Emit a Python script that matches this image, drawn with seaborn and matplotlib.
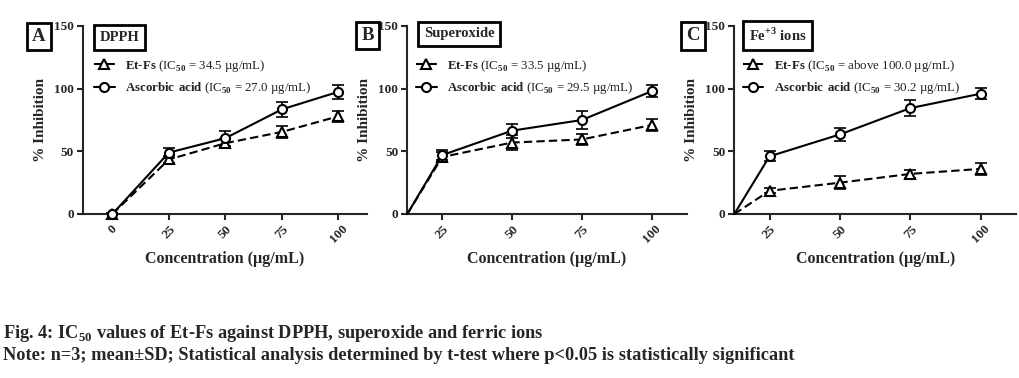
import numpy as np
import pandas as pd
import matplotlib
matplotlib.use("Agg")
import matplotlib.pyplot as plt
from matplotlib.lines import Line2D
import seaborn as sns

# concentrations (ug/mL)
conc_a = [0, 25, 50, 75, 100]
conc_bc = [12.5, 25, 50, 75, 100]

# panel A - DPPH
etfs_a = [0, 43.5, 56.5, 65.5, 78]
etfs_a_sd = [1, 3, 3.5, 5, 4.5]
asc_a = [0, 49, 60.5, 83.5, 97.5]
asc_a_sd = [1, 4, 6, 6, 5.5]

# panel B - superoxide
etfs_b = [0, 45.5, 57, 59.5, 71]
etfs_b_sd = [0, 4, 6, 4.5, 5]
asc_b = [0, 47, 66.5, 75, 98]
asc_b_sd = [0, 4, 5.5, 7, 5]

# panel C - ferric ions
etfs_c = [0, 18.5, 25, 32, 36]
etfs_c_sd = [0, 2, 5, 3, 5]
asc_c = [0, 46, 63.5, 84.5, 96]
asc_c_sd = [0, 4, 5, 6.5, 4.5]

panel_letters = ["A", "B", "C"]
panel_titles = ["DPPH", "Superoxide", r"Fe$^{\mathbf{+3}}$ ions"]
ic50_etfs = ["34.5 µg/mL", "33.5 µg/mL", "above 100.0 µg/mL"]
ic50_asc = ["27.0 µg/mL", "29.5 µg/mL", "30.2 µg/mL"]
yticks = [0, 50, 100, 150]

sns.set_style("ticks")
plt.rcParams["font.family"] = ["Liberation Serif", "DejaVu Serif"]
plt.rcParams["font.weight"] = "bold"
plt.rcParams["mathtext.fontset"] = "custom"
plt.rcParams["mathtext.rm"] = "Liberation Serif"
plt.rcParams["mathtext.bf"] = "Liberation Serif:bold"
plt.rcParams["axes.linewidth"] = 1.5

fig = plt.figure(figsize=(10.19, 3.78), dpi=100)

boxes = [(83, 366.7), (407.3, 686.7), (734.3, 1016)]
ybot, ytop = 214, 26
letter_pos = [(38.8, 36.5), (367.5, 35.5), (692.5, 35.8)]
title_pos = [(119.3, 37.5), (459.3, 34), (777.7, 35.3)]
legend_x = [94, 416, 742.7]

panels = [
    (conc_a, etfs_a, etfs_a_sd, asc_a, asc_a_sd, (-13, 112.5), [0, 25, 50, 75, 100]),
    (conc_bc, etfs_b, etfs_b_sd, asc_b, asc_b_sd, (12.5, 112.5), [25, 50, 75, 100]),
    (conc_bc, etfs_c, etfs_c_sd, asc_c, asc_c_sd, (12.5, 112.5), [25, 50, 75, 100]),
]

W, H = 1019, 378
for i, (conc, ef, ef_sd, asc, asc_sd, xlim, xt) in enumerate(panels):
    x0, x1 = boxes[i]
    ax = fig.add_axes([x0 / W, 1 - ybot / H, (x1 - x0) / W, (ybot - ytop) / H])
    mev = None if i == 0 else slice(1, None)

    ax.errorbar(conc, ef, yerr=ef_sd, fmt="none", ecolor="black",
                elinewidth=1.2, capsize=4, capthick=1.2, zorder=2)
    ax.errorbar(conc, asc, yerr=asc_sd, fmt="none", ecolor="black",
                elinewidth=1.2, capsize=4, capthick=1.2, zorder=2)

    sns.lineplot(x=conc, y=ef, ax=ax, color="black", linewidth=1.5,
                 linestyle=(0, (4, 2)), marker="^", markersize=6.5,
                 markerfacecolor="white", markeredgecolor="black",
                 markeredgewidth=1.5, markevery=mev, zorder=3, clip_on=False)
    sns.lineplot(x=conc, y=asc, ax=ax, color="black", linewidth=1.5,
                 marker="o", markersize=6.5, markerfacecolor="white",
                 markeredgecolor="black", markeredgewidth=1.5,
                 markevery=mev, zorder=3, clip_on=False)

    ax.set_xlim(*xlim)
    ax.set_ylim(0, 150)
    ax.set_xticks(xt)
    ax.set_yticks(yticks)
    ax.set_xticklabels([str(v) for v in xt], rotation=45, ha="center",
                       fontsize=9.5, fontweight="bold")
    ax.set_yticklabels([str(v) for v in yticks], fontsize=9.5, fontweight="bold")
    ax.tick_params(axis="both", length=4.5, width=1.5, pad=2)
    sns.despine(ax=ax)

    ax.set_ylabel("% Inhibition", fontsize=11, fontweight="bold", labelpad=5)
    ax.set_xlabel("Concentration (µg/mL)", fontsize=11.5, fontweight="bold", labelpad=4)

    h1 = Line2D([], [], color="black", linewidth=1.5, linestyle=(0, (4, 2)),
                marker="^", markersize=6.5, markerfacecolor="white",
                markeredgewidth=1.5)
    h2 = Line2D([], [], color="black", linewidth=1.5, marker="o",
                markersize=6.5, markerfacecolor="white", markeredgewidth=1.5)
    lab1 = r"$\mathbf{Et}$-$\mathbf{Fs}$ (IC$_{50}$ = " + ic50_etfs[i] + ")"
    lab2 = r"$\mathbf{Ascorbic\ acid}$ (IC$_{50}$ = " + ic50_asc[i] + ")"
    leg = fig.legend([h1, h2], [lab1, lab2], loc="upper left",
                     bbox_to_anchor=(legend_x[i] / W, 1 - 58 / H),
                     frameon=False, borderpad=0, borderaxespad=0,
                     handlelength=1.6, handletextpad=0.8, labelspacing=0.5,
                     prop={"size": 9.3, "weight": "normal"})
    for t in leg.get_texts():
        t.set_color("#222222")

    lx, ly = letter_pos[i]
    fig.text(lx / W, 1 - ly / H, panel_letters[i], fontsize=13.5, fontweight="bold",
             ha="center", va="center",
             bbox=dict(boxstyle="square,pad=0.28", fc="white", ec="black", lw=2))
    tx, ty = title_pos[i]
    fig.text(tx / W, 1 - ty / H, panel_titles[i], fontsize=10.5, fontweight="bold",
             ha="center", va="center",
             bbox=dict(boxstyle="square,pad=0.4", fc="white", ec="black", lw=2))

fig.text(3 / W, 1 - 334 / H,
         r"Fig. 4: IC$_{\mathbf{50}}$ values of Et-Fs against DPPH, superoxide and ferric ions",
         fontsize=13.2, fontweight="bold", ha="left", va="center")
fig.text(3 / W, 1 - 355 / H,
         "Note: n=3; mean±SD; Statistical analysis determined by t-test where p<0.05 is statistically significant",
         fontsize=13.2, fontweight="bold", ha="left", va="center")

fig.savefig("out.png", dpi=100)
